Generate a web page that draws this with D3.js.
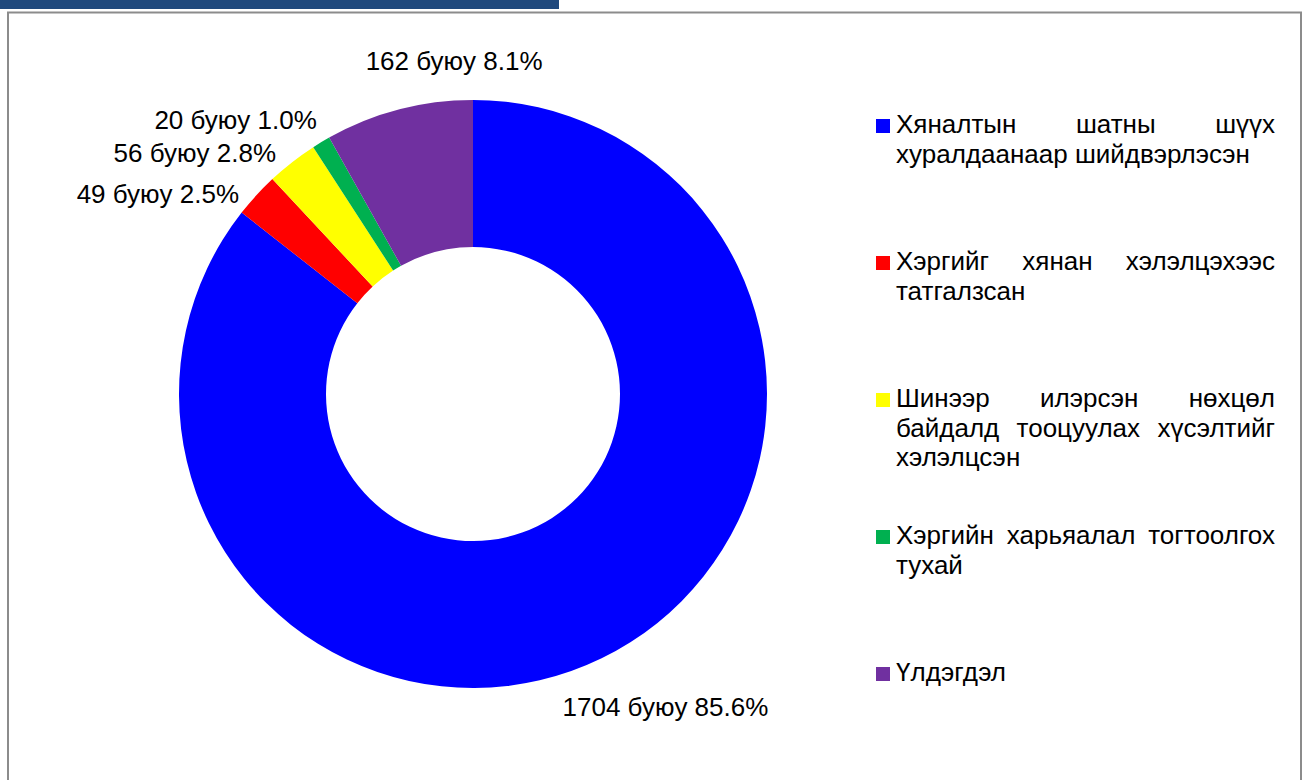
<!DOCTYPE html>
<html>
<head>
<meta charset="utf-8">
<script src="https://cdn.jsdelivr.net/npm/d3@7"></script>
<style>
  body { margin: 0; background: #fff; }
  svg text { font-family: "Liberation Sans", Arial, sans-serif; fill: #000; }
</style>
</head>
<body>
<div id="chart"></div>
<script>
// data
const categories = [
    "Хяналтын шатны шүүх хуралдаанаар шийдвэрлэсэн",
    "Хэргийг хянан хэлэлцэхээс татгалзсан",
    "Шинээр илэрсэн нөхцөл байдалд тооцуулах хүсэлтийг хэлэлцсэн",
    "Хэргийн харьяалал тогтоолгох тухай",
    "Үлдэгдэл"
];
const values = [1704, 49, 56, 20, 162];
const colors = ["#0000ff", "#ff0000", "#ffff00", "#00b050", "#7030a0"];

const width = 1304;
const height = 780;
const cx = 473, cy = 394;
const outerR = 294, innerR = 147;
const labelR = outerR + 18;
// small shifts so the labels sit where the original placed them
const labelNudge = [[-47, 32], [-4, 11], [-5, 5], [5, -7], [60, -22]];

const total = d3.sum(values);

const svg = d3.select("#chart")
    .append("svg")
    .attr("width", width)
    .attr("height", height);

// header strip and frame
svg.append("rect")
    .attr("x", 0).attr("y", 0)
    .attr("width", 559).attr("height", 9)
    .attr("fill", "#1f497d");

svg.append("rect")
    .attr("x", 8).attr("y", 12.5)
    .attr("width", 1293).attr("height", 800)
    .attr("fill", "none")
    .attr("stroke", "#8c8c8c")
    .attr("stroke-width", 2);

const pie = d3.pie().value(d => d).sort(null);
const arcs = pie(values);

const arc = d3.arc().innerRadius(innerR).outerRadius(outerR);

const g = svg.append("g")
    .attr("transform", "translate(" + cx + "," + cy + ")");

g.selectAll("path")
    .data(arcs)
    .enter()
    .append("path")
    .attr("d", arc)
    .attr("fill", (d, i) => colors[i]);

// data labels
g.selectAll(".slice-label")
    .data(arcs)
    .enter()
    .append("text")
    .attr("class", "slice-label")
    .attr("font-size", "26px")
    .each(function (d, i) {
        const a = (d.startAngle + d.endAngle) / 2;
        const s = Math.sin(a), c = Math.cos(a);
        let x = labelR * s, y = -labelR * c;
        let anchor = "middle", dy = "0.35em";
        if (s < -0.3) anchor = "end";
        else if (s > 0.3) anchor = "start";
        else dy = c > 0 ? "0" : "0.7em";
        x += labelNudge[i][0];
        y += labelNudge[i][1];
        d3.select(this)
            .attr("x", x)
            .attr("y", y)
            .attr("dy", dy)
            .attr("text-anchor", anchor)
            .text(d.data + " буюу " + (d.data / total * 100).toFixed(1) + "%");
    });

// legend
const legendX = 876;
const textX = 896;
const textW = 379;
const lineH = 29.5;
const legendY = d3.scalePoint()
    .domain(d3.range(categories.length))
    .range([133, 681]);

const measure = svg.append("text").attr("font-size", "26px");
function textWidth(s) {
    measure.text(s);
    return measure.node().getComputedTextLength();
}
const spaceW = textWidth("x x") - textWidth("xx");

const legend = svg.selectAll(".legend")
    .data(categories)
    .enter()
    .append("g")
    .attr("class", "legend")
    .attr("transform", (d, i) => "translate(0," + legendY(i) + ")");

legend.append("rect")
    .attr("x", legendX)
    .attr("y", -14)
    .attr("width", 14)
    .attr("height", 14)
    .attr("fill", (d, i) => colors[i]);

legend.each(function (label) {
    const words = label.split(" ").map(w => ({ w: w, len: textWidth(w) }));
    const lines = [];
    let cur = [];
    let curLen = 0;
    words.forEach(word => {
        const next = cur.length ? curLen + spaceW + word.len : word.len;
        if (cur.length && next > textW * 1.01) {
            lines.push(cur);
            cur = [word];
            curLen = word.len;
        } else {
            cur.push(word);
            curLen = next;
        }
    });
    if (cur.length) lines.push(cur);

    const t = d3.select(this).append("text").attr("font-size", "26px");
    lines.forEach((line, li) => {
        const sum = d3.sum(line, w => w.len);
        const last = li === lines.length - 1;
        const gap = (!last && line.length > 1) ? (textW - sum) / (line.length - 1) : spaceW;
        let x = textX;
        line.forEach(word => {
            t.append("tspan")
                .attr("x", x)
                .attr("y", li * lineH)
                .text(word.w);
            x += word.len + gap;
        });
    });
});
measure.remove();
</script>
</body>
</html>
